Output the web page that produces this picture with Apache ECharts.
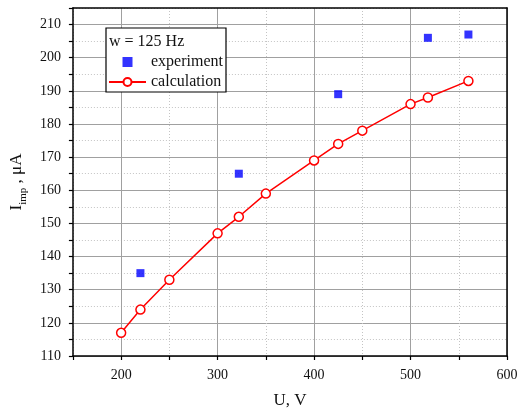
<!DOCTYPE html>
<html>
<head>
<meta charset="utf-8">
<script src="https://cdn.jsdelivr.net/npm/echarts@6/dist/echarts.min.js"></script>
<style>html,body{margin:0;padding:0;background:#fff;}#c{width:528px;height:414px;}</style>
</head>
<body>
<div id="c"></div>
<script>
const expU = [220, 322, 425, 518, 560];
const expI = [135, 165, 189, 206, 207];
const calcU = [200, 220, 250, 300, 322, 350, 400, 425, 450, 500, 518, 560];
const calcI = [117, 124, 133, 147, 152, 159, 169, 174, 178, 186, 188, 193];
const legendTitle = 'w = 125 Hz';
const seriesNames = ['experiment', 'calculation'];

const FONT = 'Liberation Serif';
const chart = echarts.init(document.getElementById('c'), null, {renderer: 'canvas'});
const major = '#a0a0a0', minor = '#c4c4c4', T = 'rgba(0,0,0,0)';
const axisLine = {show: true, onZero: false, lineStyle: {color: '#000', width: 1.5}};

chart.setOption({
  animation: false,
  backgroundColor: '#fff',
  grid: {left: 72, right: 21, top: 8, bottom: 54},
  xAxis: [{
    type: 'value', position: 'bottom', min: 150, max: 600, interval: 50,
    name: 'U, V', nameLocation: 'middle', nameGap: 36,
    nameTextStyle: {fontFamily: FONT, fontSize: 17, color: '#111'},
    axisLine: axisLine,
    axisTick: {show: true, inside: false, length: 4, lineStyle: {color: '#000', width: 1.2}},
    axisLabel: {fontFamily: FONT, fontSize: 14, color: '#111', margin: 12,
      formatter: v => (v % 100 === 0 ? String(v) : '')},
    splitLine: {show: true, lineStyle: {color: [T, major], width: 1, type: 'solid'}}
  }, {
    type: 'value', position: 'top', min: 150, max: 600, interval: 50,
    axisLine: axisLine, axisTick: {show: false}, axisLabel: {show: false},
    splitLine: {show: true, lineStyle: {color: [minor, T], width: 1, type: [1, 2]}}
  }],
  yAxis: [{
    type: 'value', position: 'left', min: 110, max: 215, interval: 5,
    name: '{a|I}{b|imp}{a| , μA}', nameLocation: 'middle', nameGap: 40, nameRotate: 90,
    nameTextStyle: {fontFamily: FONT, color: '#111',
      rich: {
        a: {fontFamily: FONT, fontSize: 17, color: '#111', lineHeight: 22, verticalAlign: 'bottom'},
        b: {fontFamily: FONT, fontSize: 11, color: '#111', lineHeight: 22, verticalAlign: 'bottom', padding: [0, 0, -4, 0]}
      }},
    axisLine: axisLine,
    axisTick: {show: true, inside: false, length: 4, lineStyle: {color: '#000', width: 1.2}},
    axisLabel: {fontFamily: FONT, fontSize: 14, color: '#111', margin: 12,
      formatter: v => (v % 10 === 0 ? String(v) : '')},
    splitLine: {show: true, lineStyle: {color: [major, T], width: 1, type: 'solid'}}
  }, {
    type: 'value', position: 'right', min: 110, max: 215, interval: 5,
    axisLine: axisLine, axisTick: {show: false}, axisLabel: {show: false},
    splitLine: {show: true, lineStyle: {color: [T, minor], width: 1, type: [1, 2]}}
  }],
  legend: {
    show: true, orient: 'vertical', left: 108, top: 54, padding: 0,
    itemWidth: 37, itemHeight: 10, itemGap: 4, z: 20, symbolKeepAspect: true,
    textStyle: {fontFamily: FONT, fontSize: 16, color: '#111', padding: [0, 0, 0, 0]},
    data: [{name: seriesNames[0], icon: 'path://M0,0h10v10h-10z'}, {name: seriesNames[1]}]
  },
  graphic: [{
    type: 'rect', z: 10, shape: {x: 106, y: 28, width: 120, height: 64},
    style: {fill: '#fff', stroke: '#000', lineWidth: 1.2}
  }, {
    type: 'text', z: 11, x: 109, y: 42,
    style: {text: legendTitle, fontFamily: FONT, fontSize: 16, fill: '#111', verticalAlign: 'middle'}
  }],
  series: [{
    name: seriesNames[0], type: 'scatter', xAxisIndex: 0, yAxisIndex: 0,
    symbol: 'rect', symbolSize: 8, itemStyle: {color: '#0000ff'},
    data: expU.map((u, i) => [u, expI[i]]), z: 5
  }, {
    name: seriesNames[1], type: 'line', xAxisIndex: 0, yAxisIndex: 0,
    symbol: 'circle', symbolSize: 9, showAllSymbol: true,
    lineStyle: {color: '#ff0000', width: 1.5},
    itemStyle: {color: '#fff', borderColor: '#ff0000', borderWidth: 1.5},
    data: calcU.map((u, i) => [u, calcI[i]]), z: 6
  }]
});
</script>
</body>
</html>
